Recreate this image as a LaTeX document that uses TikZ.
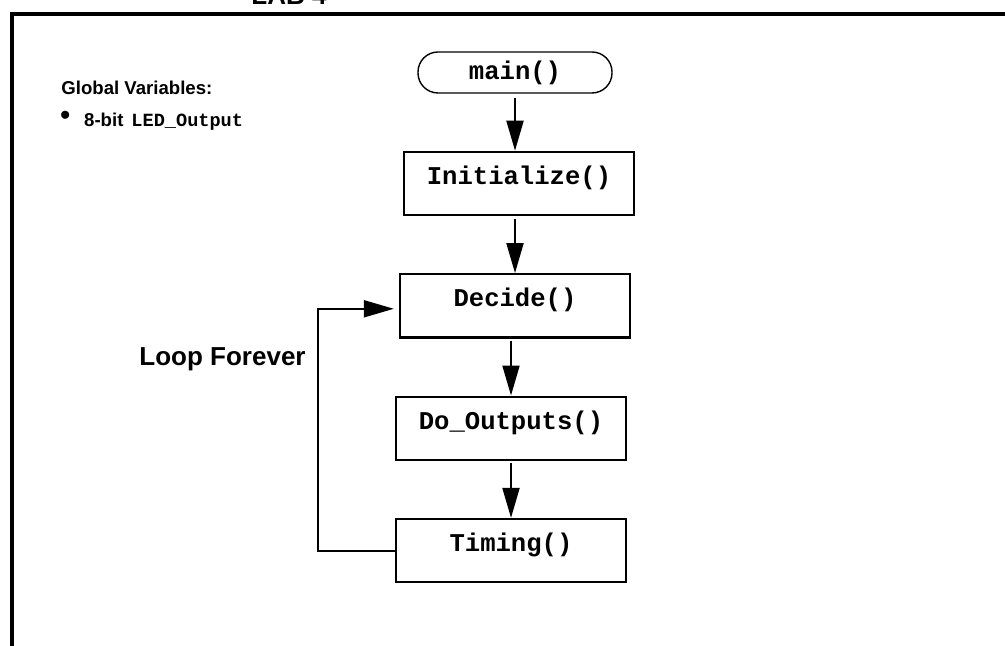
\documentclass[tikz,border=0pt]{standalone}
\usepackage{fontspec}
\setmainfont{Liberation Sans}
\setmonofont{Liberation Mono}
\usetikzlibrary{arrows.meta, positioning}

\begin{document}
\begin{tikzpicture}[
        x=0.5pt, y=-0.5pt,
        terminal/.style={rectangle, draw, rounded corners=10pt, line width=0.7pt, minimum width=97pt, minimum height=20.5pt, font=\ttfamily\bfseries\fontsize{12.8}{14}\selectfont},
        process/.style={rectangle, draw, line width=1.2pt, minimum width=115pt, minimum height=31.5pt, text height=8pt, text depth=7pt, font=\ttfamily\bfseries\fontsize{12.8}{14}\selectfont},
        arrow/.style={-{Triangle[length=15pt, width=8.5pt]}, line width=1pt},
        heading/.style={font=\bfseries\fontsize{13}{15}\selectfont},
        note/.style={font=\bfseries\fontsize{9.3}{11}\selectfont},
        node distance=28.5pt
        ]

        \useasboundingbox (0,0) rectangle (1005,646);
        \clip (0,0) rectangle (1005,646);

        % Frame and title
        \draw [line width=2pt] (12,646) -- (12,14) -- (1005,14);
        \node (title) [heading, anchor=base west, inner sep=0pt] at (251,5) {LAB 4};

        % Global variables
        \node (globals) [note, anchor=base west, inner sep=0pt] at (61,95) {Global Variables:};
        \node (ledvar) [note, anchor=base west, inner sep=0pt] at (60,127) {\raisebox{1pt}{\fontsize{14}{14}\selectfont\textbullet}\hspace{7pt}8-bit\hspace{4pt}\texttt{LED\_Output}};

        % Nodes
        \node (main) [terminal] at (515,72.5) {main()};
        \node (init) [process, below=of main, xshift=2pt] {Initialize()};
        \node (decide) [process, below=of init, xshift=-2pt] {Decide()};
        \node (doout) [process, below=of decide, xshift=-2pt] {Do\_Outputs()};
        \node (timing) [process, below=of doout] {Timing()};

        % Arrows
        \draw [arrow, shorten <=2pt] (main) -- (main.south |- init.north);
        \draw [arrow, shorten <=1.5pt] (init.south -| decide.north) -- (decide);
        \draw [arrow, shorten <=1pt] (decide.south -| doout.north) -- (doout);
        \draw [arrow, shorten <=1pt] (doout) -- (timing);

        % Loop back
        \coordinate (loopin) at ([yshift=-1.5pt]decide.west);
        \draw [arrow, shorten >=2.5pt] (timing.west) -- ++(-77,0) |- (loopin);
        \node (looplabel) [heading, anchor=base east, inner sep=0pt] at (306,365) {Loop Forever};

    \end{tikzpicture}
\end{document}
